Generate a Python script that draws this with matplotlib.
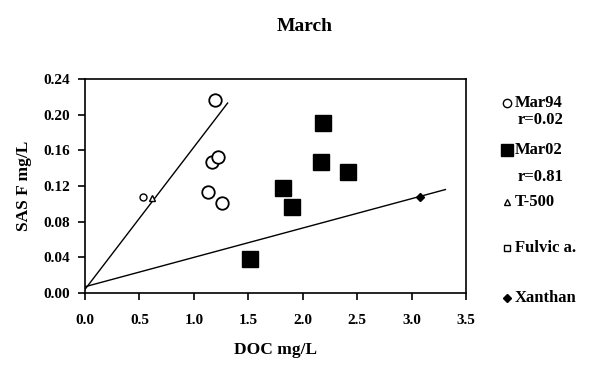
import numpy as np
import matplotlib.pyplot as plt
from matplotlib.lines import Line2D

plt.rcParams['font.family'] = ['Liberation Serif', 'DejaVu Serif']

# data
mar94_x = [1.19, 1.17, 1.22, 1.13, 1.26]
mar94_y = [0.216, 0.147, 0.153, 0.113, 0.101]
mar02_x = [2.19, 2.17, 2.42, 1.82, 1.90, 1.52]
mar02_y = [0.191, 0.147, 0.136, 0.118, 0.096, 0.038]
t500_x = [0.62]
t500_y = [0.107]
fulvic_x = [0.53]
fulvic_y = [0.108]
xanthan_x = [3.08]
xanthan_y = [0.108]

# reference lines
steep_x = [0.0, 1.31]
steep_y = [0.004, 0.213]
shallow_x = [0.0, 3.31]
shallow_y = [0.007, 0.116]

x_ticks = [0.0, 0.5, 1.0, 1.5, 2.0, 2.5, 3.0, 3.5]
y_ticks = [0.00, 0.04, 0.08, 0.12, 0.16, 0.20, 0.24]

fig = plt.figure(figsize=(5.9, 3.69), dpi=100)
ax = fig.add_axes([0.144, 0.206, 0.646, 0.580])

ax.plot(steep_x, steep_y, color='black', lw=1.0)
ax.plot(shallow_x, shallow_y, color='black', lw=1.0)

ax.plot(mar94_x, mar94_y, 'o', ms=9, mfc='white', mec='black', mew=1.3, ls='none')
ax.plot(mar02_x, mar02_y, 's', ms=11, mfc='black', mec='black', ls='none')
ax.plot(t500_x, t500_y, '^', ms=5, mfc='white', mec='black', mew=1.0, ls='none')
ax.plot(fulvic_x, fulvic_y, 'o', ms=5, mfc='white', mec='black', mew=1.0, ls='none')
ax.plot(xanthan_x, xanthan_y, 'D', ms=4, mfc='black', mec='black', ls='none')

ax.set_xlim(0, 3.5)
ax.set_ylim(0, 0.24)
ax.set_xticks(x_ticks)
ax.set_xticklabels(['%.1f' % v for v in x_ticks], fontweight='bold', fontsize=11)
ax.set_yticks(y_ticks)
ax.set_yticklabels(['%.2f' % v for v in y_ticks], fontweight='bold', fontsize=11)
ax.tick_params(direction='out', length=5, width=1.2)
ax.tick_params(axis='x', pad=10)
ax.tick_params(axis='y', pad=6)
for s in ax.spines.values():
    s.set_linewidth(1.2)

ax.set_xlabel('DOC mg/L', fontsize=12.5, fontweight='bold', labelpad=11)
ax.set_ylabel('SAS F mg/L', fontsize=12.5, fontweight='bold', labelpad=8)
fig.text(0.517, 0.927, 'March', ha='center', va='center', fontsize=14, fontweight='bold')

# legend drawn by hand on the right
items = [
    ('o', 'white', 6, 0.721, 'Mar94'),
    ('s', 'black', 8, 0.593, 'Mar02'),
    ('^', 'white', 5, 0.453, 'T-500'),
    ('s', 'white', 5, 0.328, 'Fulvic a.'),
    ('D', 'black', 4, 0.192, 'Xanthan'),
]
for mk, fc, ms, yy, lab in items:
    fig.add_artist(Line2D([0.859], [yy], transform=fig.transFigure,
                          marker=mk, ms=ms, mfc=fc, mec='black', mew=1.0, ls='none'))
    fig.text(0.873, yy, lab, ha='left', va='center', fontsize=12, fontweight='bold')
fig.text(0.878, 0.675, 'r=0.02', ha='left', va='center', fontsize=12, fontweight='bold')
fig.text(0.878, 0.520, 'r=0.81', ha='left', va='center', fontsize=12, fontweight='bold')

fig.savefig('out.png', dpi=100)
